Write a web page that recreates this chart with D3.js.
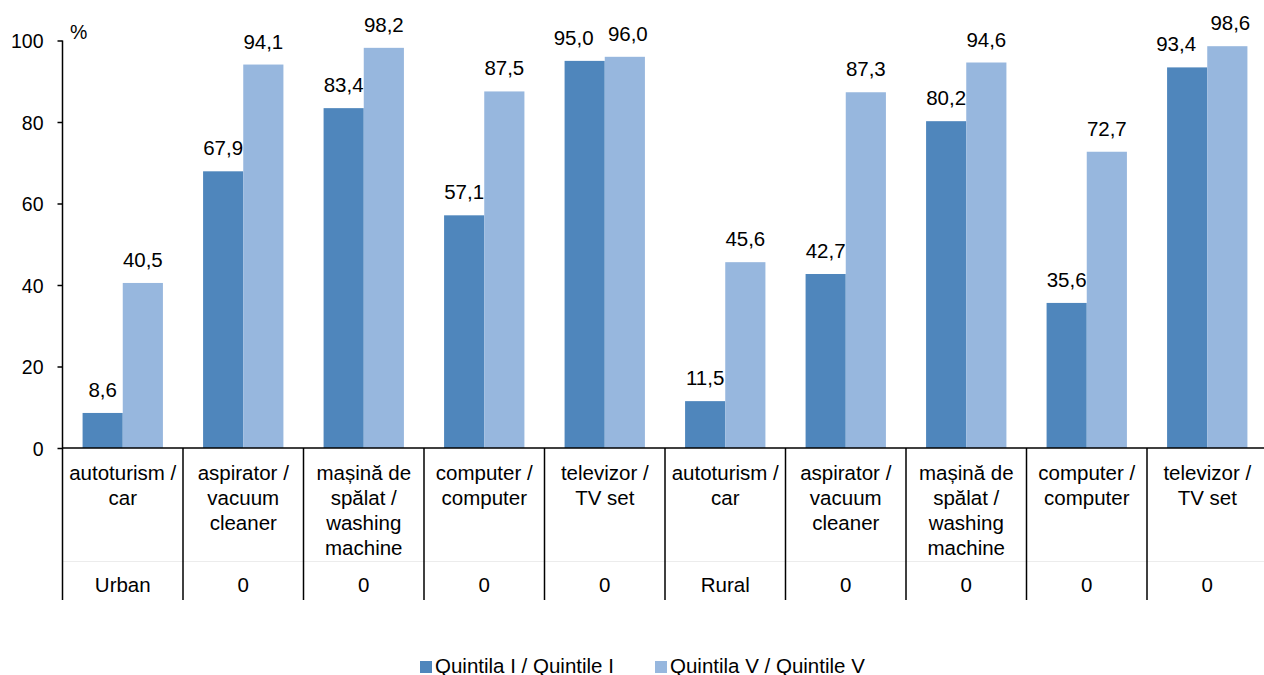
<!DOCTYPE html>
<html>
<head>
<meta charset="utf-8">
<script src="https://cdn.jsdelivr.net/npm/d3@7"></script>
<style>
  body { margin: 0; background: #fff; }
  svg text { font-family: Arial, "Liberation Sans", sans-serif; fill: #000; }
</style>
</head>
<body>
<div id="chart"></div>
<script>
// categories (item names, split in lines) and area group row
var items = [
  ["autoturism /", "car"],
  ["aspirator /", "vacuum", "cleaner"],
  ["mașină de", "spălat /", "washing", "machine"],
  ["computer /", "computer"],
  ["televizor /", "TV set"],
  ["autoturism /", "car"],
  ["aspirator /", "vacuum", "cleaner"],
  ["mașină de", "spălat /", "washing", "machine"],
  ["computer /", "computer"],
  ["televizor /", "TV set"]
];
var groups = ["Urban", "0", "0", "0", "0", "Rural", "0", "0", "0", "0"];

var quintile1 = [8.6, 67.9, 83.4, 57.1, 95.0, 11.5, 42.7, 80.2, 35.6, 93.4];
var quintile5 = [40.5, 94.1, 98.2, 87.5, 96.0, 45.6, 87.3, 94.6, 72.7, 98.6];

var seriesNames = ["Quintila I / Quintile I", "Quintila V / Quintile V"];
var colors = ["#4f86bc", "#97b7de"];
var yTicks = [0, 20, 40, 60, 80, 100];

var W = 1264, H = 675;
var plotLeft = 62.5, plotRight = 1267.5, plotTop = 40.5, zeroY = 448;
var fontSize = 19.5, catFont = 20.5;

var svg = d3.select("#chart").append("svg")
  .attr("width", W).attr("height", H);

var x = d3.scaleBand()
  .domain(d3.range(items.length))
  .range([plotLeft, plotRight])
  .padding(0);

var y = d3.scaleLinear().domain([0, 100]).range([zeroY, plotTop]);

var barW = x.bandwidth() / 3;

// faint separator between label rows
svg.append("line")
  .attr("x1", plotLeft).attr("x2", plotRight)
  .attr("y1", 561.5).attr("y2", 561.5)
  .attr("stroke", "#ececec").attr("stroke-width", 1);

// nudge value labels apart when the two bars of a pair are almost equal
function labelShift(i, s){
  var close = Math.abs(y(quintile1[i]) - y(quintile5[i])) < 24;
  if (!close) return 0;
  return s === 0 ? -11 : 3;
}

// bars + value labels
var data = [quintile1, quintile5];
data.forEach(function(vals, s){
  svg.append("g").selectAll("rect")
    .data(vals)
    .enter().append("rect")
      .attr("x", function(d, i){ return x(i) + barW / 2 + s * barW; })
      .attr("y", function(d){ return y(d); })
      .attr("width", barW)
      .attr("height", function(d){ return zeroY - y(d); })
      .attr("fill", colors[s]);

  svg.append("g").selectAll("text")
    .data(vals)
    .enter().append("text")
      .attr("x", function(d, i){ return x(i) + barW + s * barW + labelShift(i, s); })
      .attr("y", function(d){ return y(d) - 16; })
      .attr("text-anchor", "middle")
      .style("font-size", catFont + "px")
      .text(function(d){ return d.toFixed(1).replace(".", ","); });
});

// y axis
var yAxis = d3.axisLeft(y)
  .tickValues(yTicks)
  .tickSize(5)
  .tickPadding(14)
  .tickFormat(d3.format("d"));

var gy = svg.append("g")
  .attr("transform", "translate(" + plotLeft + ",0)")
  .call(yAxis);
gy.select(".domain").remove();
gy.selectAll(".tick line").attr("stroke", "#000").attr("stroke-width", 1.5);
gy.selectAll(".tick text")
  .style("font-size", fontSize + "px")
  .style("font-family", "Arial, 'Liberation Sans', sans-serif")
  .attr("fill", "#000")
  .attr("dy", "0.36em");

svg.append("line")
  .attr("x1", plotLeft).attr("x2", plotLeft)
  .attr("y1", plotTop).attr("y2", 600)
  .attr("stroke", "#000").attr("stroke-width", 1.5);

// x axis line
svg.append("line")
  .attr("x1", plotLeft).attr("x2", plotRight)
  .attr("y1", zeroY).attr("y2", zeroY)
  .attr("stroke", "#000").attr("stroke-width", 1.5);

// category separators
svg.append("g").selectAll("line")
  .data(d3.range(1, items.length + 1))
  .enter().append("line")
    .attr("x1", function(i){ return plotLeft + i * x.step(); })
    .attr("x2", function(i){ return plotLeft + i * x.step(); })
    .attr("y1", zeroY).attr("y2", 600)
    .attr("stroke", "#000").attr("stroke-width", 1.5);

// category labels
items.forEach(function(lines, i){
  var t = svg.append("text")
    .attr("text-anchor", "middle")
    .style("font-size", catFont + "px");
  lines.forEach(function(l, k){
    t.append("tspan")
      .attr("x", x(i) + x.bandwidth() / 2)
      .attr("y", 480 + k * 25)
      .text(l);
  });
});

svg.append("g").selectAll("text")
  .data(groups)
  .enter().append("text")
    .attr("x", function(d, i){ return x(i) + x.bandwidth() / 2; })
    .attr("y", 592)
    .attr("text-anchor", "middle")
    .style("font-size", catFont + "px")
    .text(function(d){ return d; });

// unit
svg.append("text")
  .attr("x", 70).attr("y", 39)
  .style("font-size", fontSize + "px")
  .text("%");

// legend
var legendX = [420, 655];
seriesNames.forEach(function(name, s){
  svg.append("rect")
    .attr("x", legendX[s]).attr("y", 661)
    .attr("width", 12).attr("height", 12)
    .attr("fill", colors[s]);
  svg.append("text")
    .attr("x", legendX[s] + 15).attr("y", 673)
    .style("font-size", catFont + "px")
    .text(name);
});
</script>
</body>
</html>
